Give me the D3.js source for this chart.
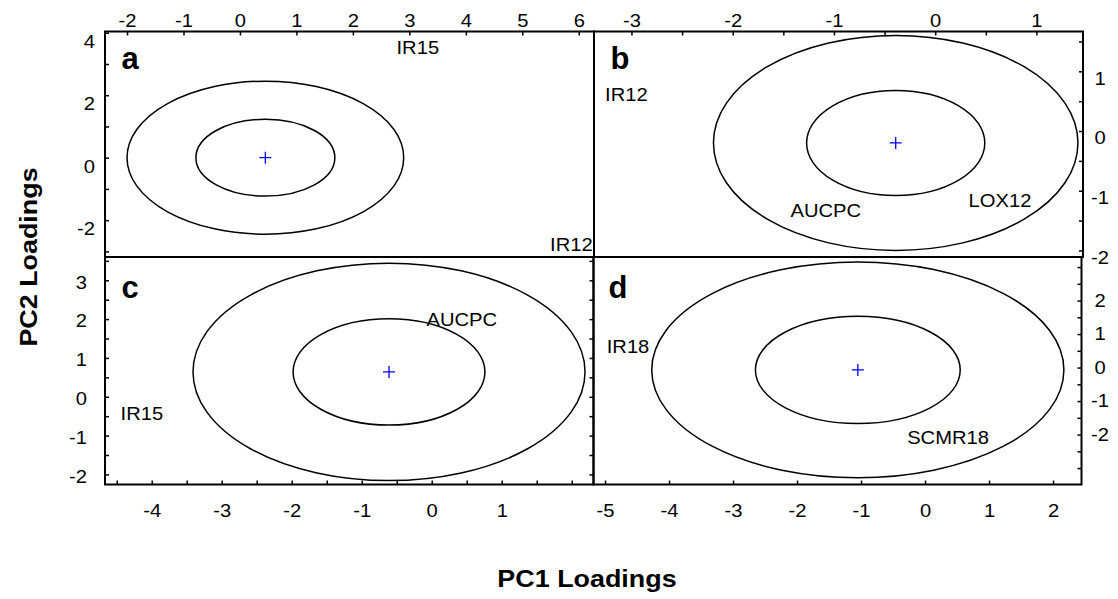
<!DOCTYPE html>
<html><head><meta charset="utf-8">
<script src="https://cdn.jsdelivr.net/npm/d3@7"></script>
<style>
body{margin:0;background:#fff;}
svg{display:block;font-family:"Liberation Sans",Arial,sans-serif;}
</style></head>
<body>
<svg id="chart" width="1118" height="599"></svg>
<script>
// ---- data ----
const panelIds = ["a", "b", "c", "d"];
// axis ranges (data units) for each panel
const xDomains = { a: [-2.39, 6.27], b: [-3.37, 1.46], c: [-4.667, 2.311], d: [-5.18, 2.445] };
const yDomains = { a: [-3.18, 4.04], b: [-2.11, 1.667], c: [-2.26, 3.60], d: [-3.49, 3.30] };
// tick values
const aXTicks = [-2, -1, 0, 1, 2, 3, 4, 5, 6];
const aXLabels = [-2, -1, 0, 1, 2, 3, 4, 5, 6];
const aYTicks = [-3, -2, -1, 0, 1, 2, 3, 4];
const aYLabels = [4, 2, 0, -2];
const bXTicks = [-3, -2.5, -2, -1.5, -1, -0.5, 0, 0.5, 1];
const bXLabels = [-3, -2, -1, 0, 1];
const bYTicks = [-2, -1.5, -1, -0.5, 0, 0.5, 1, 1.5];
const bYLabels = [1, 0, -1, -2];
const cXTicks = [-4.5, -4, -3.5, -3, -2.5, -2, -1.5, -1, -0.5, 0, 0.5, 1, 1.5, 2];
const cXLabels = [-4, -3, -2, -1, 0, 1];
const cYTicks = [-2, -1.5, -1, -0.5, 0, 0.5, 1, 1.5, 2, 2.5, 3, 3.5];
const cYLabels = [3, 2, 1, 0, -1, -2];
const dXTicks = [-5, -4, -3, -2, -1, 0, 1, 2];
const dXLabels = [-5, -4, -3, -2, -1, 0, 1, 2];
const dYTicks = [-3, -2.5, -2, -1.5, -1, -0.5, 0, 0.5, 1, 1.5, 2, 2.5, 3];
const dYLabels = [2, 1, 0, -1, -2];
// confidence circles: centre and radii (data units)
const centreX = { a: 0.45, b: -0.39, c: -0.61, d: -1.05 };
const centreY = { a: 0.0, b: -0.2, c: 0.64, d: -0.07 };
const outerR = { a: 2.45, b: 1.8, c: 2.8, d: 3.22 };
const innerR = { a: 1.23, b: 0.88, c: 1.37, d: 1.6 };
// variable labels
const varPanel = ["a", "a", "b", "b", "b", "c", "c", "d", "d"];
const varName = ["IR15", "IR12", "IR12", "AUCPC", "LOX12", "AUCPC", "IR15", "IR18", "SCMR18"];
const varX = [3.15, 5.87, -3.05, -1.08, 0.64, 0.43, -4.14, -4.64, 0.36];
const varY = [3.52, -2.8, 0.6, -1.34, -1.17, 1.98, -0.45, 0.62, -2.1];

// ---- layout ----
const box = {
  a: { l: 105, t: 31.5, r: 594, b: 257 },
  b: { l: 594, t: 31.5, r: 1083, b: 257 },
  c: { l: 105, t: 257, r: 593.5, b: 484.5 },
  d: { l: 593.5, t: 257, r: 1081.5, b: 484.5 }
};
const FS = 18, STRETCH = 1.12;
const svg = d3.select("#chart");
const sx = {}, sy = {};
panelIds.forEach(p => {
  sx[p] = d3.scaleLinear().domain(xDomains[p]).range([box[p].l, box[p].r]);
  sy[p] = d3.scaleLinear().domain(yDomains[p]).range([box[p].b, box[p].t]);
});

function stretch(sel, k) {
  sel.each(function () {
    const t = this.textContent;
    if (!t) return;
    const w = this.getComputedTextLength();
    if (w > 0) d3.select(this).attr("textLength", w * k).attr("lengthAdjust", "spacingAndGlyphs");
  });
}
function fmt(labels) { return v => labels.some(l => Math.abs(l - v) < 1e-9) ? String(v) : ""; }
function styleAxis(g) {
  g.attr("font-size", FS).attr("font-family", "Liberation Sans, Arial, sans-serif");
  g.select(".domain").remove();
  g.selectAll(".tick line").attr("stroke", "#000").attr("stroke-width", 1.5);
  g.selectAll("text").attr("font-size", FS).attr("fill", "#000");
  stretch(g.selectAll("text"), STRETCH);
}

// ellipses
panelIds.forEach(p => {
  const g = svg.append("g");
  [outerR[p], innerR[p]].forEach(r => {
    g.append("ellipse")
      .attr("cx", sx[p](centreX[p])).attr("cy", sy[p](centreY[p]))
      .attr("rx", Math.abs(sx[p](centreX[p] + r) - sx[p](centreX[p])))
      .attr("ry", Math.abs(sy[p](centreY[p] + r) - sy[p](centreY[p])))
      .attr("fill", "none").attr("stroke", "#000").attr("stroke-width", 1.5);
  });
  const cx = sx[p](centreX[p]), cy = sy[p](centreY[p]);
  g.append("path").attr("d", `M${cx - 6},${cy}H${cx + 6}M${cx},${cy - 6}V${cy + 6}`)
    .attr("stroke", "#0000ff").attr("stroke-width", 1.3).attr("fill", "none");
});

// frames
panelIds.forEach(p => {
  const b = box[p];
  svg.append("rect").attr("x", b.l).attr("y", b.t).attr("width", b.r - b.l).attr("height", b.b - b.t)
    .attr("fill", "none").attr("stroke", "#000").attr("stroke-width", 2);
});

// axes
// a: top & left
svg.append("g").attr("transform", `translate(0,${box.a.t})`)
  .call(d3.axisTop(sx.a).tickValues(aXTicks).tickFormat(fmt(aXLabels)).tickSizeInner(-4).tickSizeOuter(0).tickPadding(4.5))
  .call(styleAxis);
svg.append("g").attr("transform", `translate(${box.a.l},0)`)
  .call(d3.axisLeft(sy.a).tickValues(aYTicks).tickFormat(fmt(aYLabels)).tickSizeInner(-4).tickSizeOuter(0).tickPadding(10))
  .call(styleAxis)
  .call(g => g.selectAll("text").attr("transform", "translate(0,9)"));
// b: top & right
svg.append("g").attr("transform", `translate(0,${box.b.t})`)
  .call(d3.axisTop(sx.b).tickValues(bXTicks).tickFormat(fmt(bXLabels)).tickSizeInner(-4).tickSizeOuter(0).tickPadding(4.5))
  .call(styleAxis);
svg.append("g").attr("transform", `translate(${box.b.r},0)`)
  .call(d3.axisRight(sy.b).tickValues(bYTicks).tickFormat(fmt(bYLabels)).tickSizeInner(-4).tickSizeOuter(0).tickPadding(17))
  .call(g => g.selectAll("text").attr("text-anchor", "middle").attr("transform", "translate(0,7)"))
  .call(styleAxis);
// c: bottom & left (+ mirrored ticks on right border)
svg.append("g").attr("transform", `translate(0,${box.c.b})`)
  .call(d3.axisBottom(sx.c).tickValues(cXTicks).tickFormat(fmt(cXLabels)).tickSizeInner(-4).tickSizeOuter(0).tickPadding(20))
  .call(styleAxis);
svg.append("g").attr("transform", `translate(${box.c.l},0)`)
  .call(d3.axisLeft(sy.c).tickValues(cYTicks).tickFormat(fmt(cYLabels)).tickSizeInner(-4).tickSizeOuter(0).tickPadding(18))
  .call(styleAxis)
  .call(g => g.selectAll("text").attr("transform", "translate(0,2)"));
svg.append("g").attr("transform", `translate(${box.c.r},0)`)
  .call(d3.axisRight(sy.c).tickValues(cYTicks).tickFormat("").tickSizeInner(-4).tickSizeOuter(0))
  .call(styleAxis);
// d: bottom & right
svg.append("g").attr("transform", `translate(0,${box.d.b})`)
  .call(d3.axisBottom(sx.d).tickValues(dXTicks).tickFormat(fmt(dXLabels)).tickSizeInner(-4).tickSizeOuter(0).tickPadding(20))
  .call(styleAxis);
svg.append("g").attr("transform", `translate(${box.d.r},0)`)
  .call(d3.axisRight(sy.d).tickValues(dYTicks).tickFormat(fmt(dYLabels)).tickSizeInner(-4).tickSizeOuter(0).tickPadding(18.5))
  .call(g => g.selectAll("text").attr("text-anchor", "middle"))
  .call(styleAxis);

// variable labels
const vl = svg.append("g");
varName.forEach((n, i) => {
  const p = varPanel[i];
  vl.append("text").attr("x", sx[p](varX[i])).attr("y", sy[p](varY[i]))
    .attr("text-anchor", "middle").attr("dominant-baseline", "central")
    .attr("font-size", FS).attr("fill", "#000").text(n);
});
stretch(vl.selectAll("text"), STRETCH);

// panel letters
const letterPos = { a: [130, 58], b: [620, 58], c: [130, 287], d: [618, 287] };
panelIds.forEach(p => {
  svg.append("text").attr("x", letterPos[p][0]).attr("y", letterPos[p][1])
    .attr("text-anchor", "middle").attr("dominant-baseline", "central")
    .attr("font-size", 31).attr("font-weight", "bold").attr("fill", "#000").text(p);
});

// axis titles
const t1 = svg.append("text").attr("x", 587).attr("y", 578).attr("text-anchor", "middle")
  .attr("dominant-baseline", "central").attr("font-size", 24).attr("font-weight", "bold").text("PC1 Loadings");
const t2 = svg.append("text").attr("transform", "translate(28,257) rotate(-90)").attr("text-anchor", "middle")
  .attr("dominant-baseline", "central").attr("font-size", 24).attr("font-weight", "bold").text("PC2 Loadings");
stretch(t1, STRETCH);
stretch(t2, STRETCH);
</script>
</body></html>
